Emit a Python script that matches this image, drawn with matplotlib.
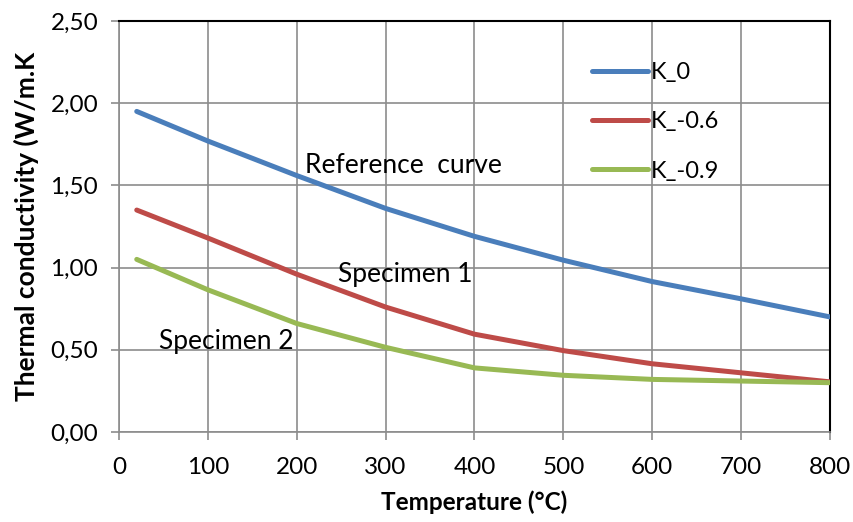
import matplotlib
matplotlib.use("Agg")
import matplotlib.pyplot as plt
from matplotlib.ticker import FuncFormatter, MultipleLocator

plt.rcParams['font.family'] = ['Lato', 'DejaVu Sans']

temperature = [20, 100, 200, 300, 400, 500, 600, 700, 800]
k_0 = [1.95, 1.77, 1.56, 1.36, 1.19, 1.045, 0.915, 0.81, 0.70]
k_06 = [1.35, 1.18, 0.96, 0.76, 0.595, 0.495, 0.415, 0.36, 0.305]
k_09 = [1.05, 0.865, 0.66, 0.515, 0.39, 0.345, 0.32, 0.31, 0.30]
series_labels = ['K_0', 'K_-0.6', 'K_-0.9']
colors = ['#4A7EBB', '#BE4B48', '#98B954']

fig = plt.figure(figsize=(8.54, 5.22), dpi=100)
ax = fig.add_axes([0.1393, 0.1724, 0.8326, 0.7874])

for ys, lab, c in zip([k_0, k_06, k_09], series_labels, colors):
    ax.plot(temperature, ys, color=c, lw=3.6, label=lab, solid_capstyle='round', zorder=3)

ax.set_xlim(0, 800)
ax.set_ylim(0, 2.5)
ax.xaxis.set_major_locator(MultipleLocator(100))
ax.yaxis.set_major_locator(MultipleLocator(0.5))
ax.yaxis.set_major_formatter(FuncFormatter(lambda v, p: f"{v:.2f}".replace('.', ',')))
ax.grid(True, color='#8c8c8c', lw=1.2, zorder=0)
for s in ['top', 'right']:
    ax.spines[s].set_color('black')
    ax.spines[s].set_linewidth(1.5)
for s in ['left', 'bottom']:
    ax.spines[s].set_color('#8c8c8c')
    ax.spines[s].set_linewidth(1.2)
ax.tick_params(axis='both', direction='out', length=6, width=1.2, color='#8c8c8c',
               labelsize=17.5)
ax.tick_params(axis='x', pad=12)
ax.tick_params(axis='y', pad=9)

ax.set_xlabel('Temperature (°C)', fontsize=17.5, fontweight='bold', labelpad=9)
ax.set_ylabel('Thermal conductivity (W/m.K', fontsize=19, fontweight='bold', labelpad=8)

ax.text(209, 1.62, 'Reference  curve', fontsize=19, va='center', ha='left')
ax.text(246, 0.955, 'Specimen 1', fontsize=19, va='center', ha='left')
ax.text(45, 0.55, 'Specimen 2', fontsize=19, va='center', ha='left')

leg = ax.legend(loc='upper left', bbox_to_anchor=(0.665, 0.90), frameon=False,
                fontsize=17, handlelength=2.37, handletextpad=0.13, labelspacing=1.2,
                borderaxespad=0, borderpad=0)

fig.savefig('out.png', dpi=100)
